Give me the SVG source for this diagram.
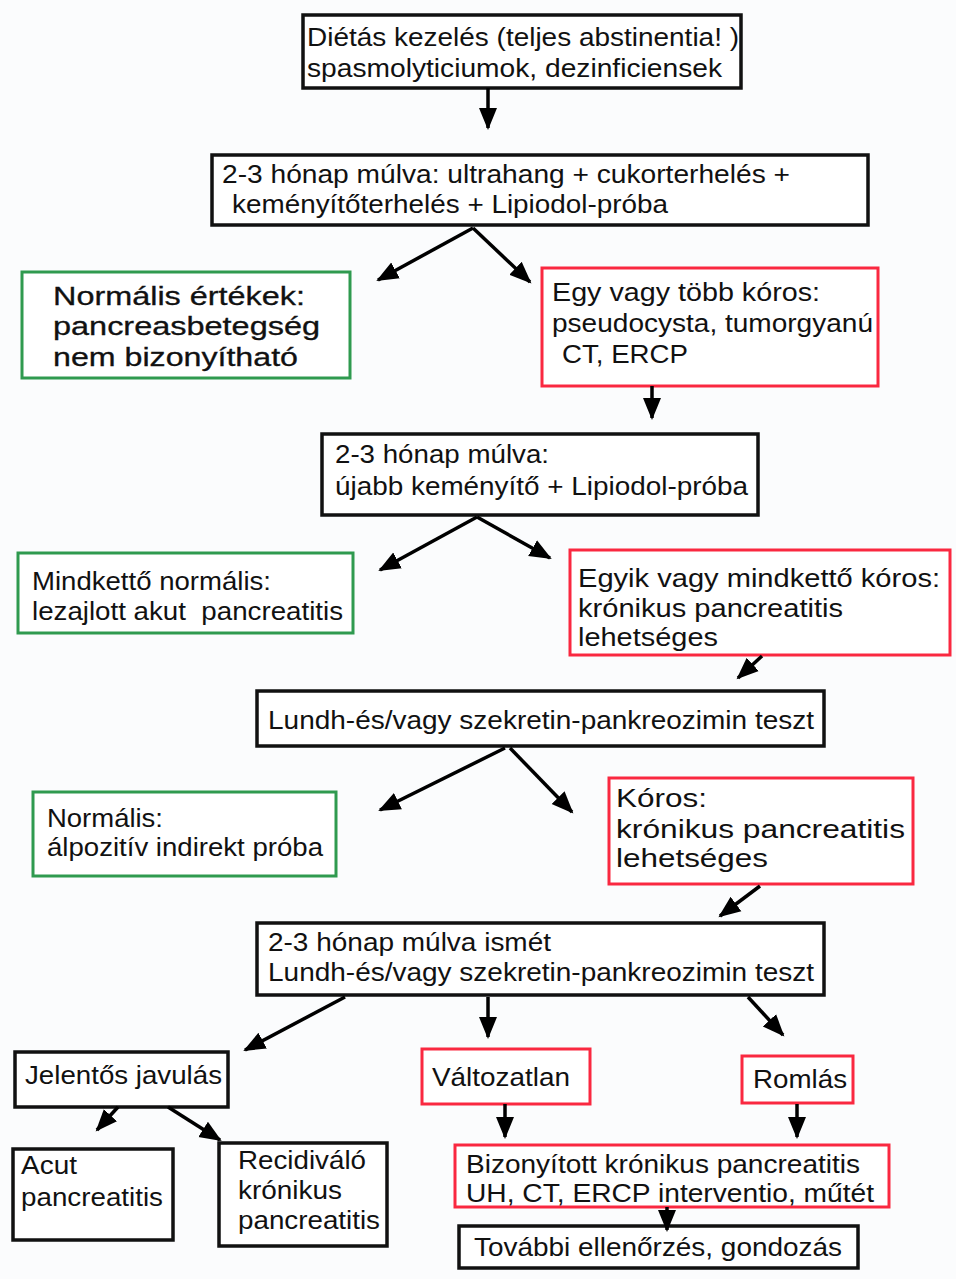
<svg xmlns="http://www.w3.org/2000/svg" width="956" height="1279" viewBox="0 0 956 1279">
<defs>
<marker id="ah" markerUnits="userSpaceOnUse" markerWidth="24" markerHeight="20" refX="20" refY="10" orient="auto">
<path d="M0,1 L22,10 L0,19 Z" fill="#000"/>
</marker>
<style>
.b{fill:#fff;stroke:#111;stroke-width:3.5}
.g{fill:#fff;stroke:#2f9a4f;stroke-width:3}
.r{fill:#fff;stroke:#fa2840;stroke-width:3}
text{font-family:"Liberation Sans",Arial,sans-serif;font-size:25px;fill:#111}
.hv{stroke:#111;stroke-width:0.3}
.c line{stroke:#000;stroke-width:3.5;marker-end:url(#ah)}
</style>
</defs>
<rect width="956" height="1279" fill="#fbfcfd"/>
<g id="n1"><rect class="b" x="303" y="15" width="438" height="73"/>
<text x="307" y="46" textLength="432" lengthAdjust="spacingAndGlyphs" font-size="26">Diétás kezelés (teljes abstinentia! )</text>
<text x="307" y="77" textLength="415" lengthAdjust="spacingAndGlyphs" font-size="26">spasmolyticiumok, dezinficiensek</text></g>
<g id="n2"><rect class="b" x="212" y="155" width="656" height="70"/>
<text x="222" y="183" textLength="568" lengthAdjust="spacingAndGlyphs">2-3 hónap múlva: ultrahang + cukorterhelés +</text>
<text x="232" y="213" textLength="436" lengthAdjust="spacingAndGlyphs">keményítőterhelés + Lipiodol-próba</text></g>
<g id="n3"><rect class="g" x="22" y="272" width="328" height="106"/>
<text class="hv" x="53" y="305" textLength="252" lengthAdjust="spacingAndGlyphs" font-size="28">Normális értékek:</text>
<text class="hv" x="53" y="335" textLength="267" lengthAdjust="spacingAndGlyphs" font-size="28">pancreasbetegség</text>
<text class="hv" x="53" y="366" textLength="245" lengthAdjust="spacingAndGlyphs" font-size="28">nem bizonyítható</text></g>
<g id="n4"><rect class="r" x="542" y="268" width="336" height="118"/>
<text x="552" y="301" textLength="268" lengthAdjust="spacingAndGlyphs" font-size="26">Egy vagy több kóros:</text>
<text x="552" y="332" textLength="321" lengthAdjust="spacingAndGlyphs" font-size="26">pseudocysta, tumorgyanú</text>
<text x="562" y="363" textLength="126" lengthAdjust="spacingAndGlyphs" font-size="26">CT, ERCP</text></g>
<g id="n5"><rect class="b" x="322" y="434" width="436" height="81"/>
<text x="335" y="463" textLength="214" lengthAdjust="spacingAndGlyphs">2-3 hónap múlva:</text>
<text x="335" y="495" textLength="413" lengthAdjust="spacingAndGlyphs">újabb keményítő + Lipiodol-próba</text></g>
<g id="n6"><rect class="g" x="18" y="553" width="335" height="80"/>
<text x="32" y="590" textLength="239" lengthAdjust="spacingAndGlyphs">Mindkettő normális:</text>
<text x="32" y="620" textLength="311" lengthAdjust="spacingAndGlyphs" xml:space="preserve">lezajlott akut  pancreatitis</text></g>
<g id="n7"><rect class="r" x="570" y="550" width="380" height="105"/>
<text x="578" y="587" textLength="362" lengthAdjust="spacingAndGlyphs">Egyik vagy mindkettő kóros:</text>
<text x="578" y="617" textLength="265" lengthAdjust="spacingAndGlyphs">krónikus pancreatitis</text>
<text x="578" y="646" textLength="140" lengthAdjust="spacingAndGlyphs">lehetséges</text></g>
<g id="n8"><rect class="b" x="257" y="691" width="567" height="55"/>
<text x="268" y="729" textLength="546" lengthAdjust="spacingAndGlyphs" font-size="29">Lundh-és/vagy szekretin-pankreozimin teszt</text></g>
<g id="n9"><rect class="g" x="33" y="792" width="303" height="84"/>
<text x="47" y="827" textLength="116" lengthAdjust="spacingAndGlyphs" font-size="26">Normális:</text>
<text x="47" y="856" textLength="276" lengthAdjust="spacingAndGlyphs" font-size="26">álpozitív indirekt próba</text></g>
<g id="n10"><rect class="r" x="609" y="778" width="304" height="106"/>
<text x="616" y="807" textLength="91" lengthAdjust="spacingAndGlyphs" font-size="27">Kóros:</text>
<text x="616" y="838" textLength="289" lengthAdjust="spacingAndGlyphs" font-size="27">krónikus pancreatitis</text>
<text x="616" y="867" textLength="152" lengthAdjust="spacingAndGlyphs" font-size="27">lehetséges</text></g>
<g id="n11"><rect class="b" x="257" y="923" width="567" height="72"/>
<text x="268" y="951" textLength="283" lengthAdjust="spacingAndGlyphs" font-size="28">2-3 hónap múlva ismét</text>
<text x="268" y="981" textLength="546" lengthAdjust="spacingAndGlyphs" font-size="28">Lundh-és/vagy szekretin-pankreozimin teszt</text></g>
<g id="n12"><rect class="b" x="15" y="1052" width="213" height="55"/>
<text x="25" y="1084" textLength="197" lengthAdjust="spacingAndGlyphs">Jelentős javulás</text></g>
<g id="n13"><rect class="r" x="422" y="1049" width="168" height="55"/>
<text x="432" y="1086" textLength="138" lengthAdjust="spacingAndGlyphs">Változatlan</text></g>
<g id="n14"><rect class="r" x="742" y="1056" width="111" height="47"/>
<text x="753" y="1088" textLength="94" lengthAdjust="spacingAndGlyphs">Romlás</text></g>
<g id="n15"><rect class="b" x="13" y="1149" width="160" height="91"/>
<text x="21" y="1174" textLength="56" lengthAdjust="spacingAndGlyphs">Acut</text>
<text x="21" y="1206" textLength="142" lengthAdjust="spacingAndGlyphs">pancreatitis</text></g>
<g id="n16"><rect class="b" x="219" y="1143" width="168" height="103"/>
<text x="238" y="1169" textLength="128" lengthAdjust="spacingAndGlyphs">Recidiváló</text>
<text x="238" y="1199" textLength="104" lengthAdjust="spacingAndGlyphs">krónikus</text>
<text x="238" y="1229" textLength="142" lengthAdjust="spacingAndGlyphs">pancreatitis</text></g>
<g id="n17"><rect class="r" x="455" y="1145" width="434" height="62"/>
<text x="466" y="1173" textLength="394" lengthAdjust="spacingAndGlyphs" font-size="26">Bizonyított krónikus pancreatitis</text>
<text x="466" y="1202" textLength="408" lengthAdjust="spacingAndGlyphs" font-size="26">UH, CT, ERCP interventio, műtét</text></g>
<g id="n18"><rect class="b" x="459" y="1226" width="399" height="42"/>
<text x="474" y="1256" textLength="368" lengthAdjust="spacingAndGlyphs" font-size="26">További ellenőrzés, gondozás</text></g>
<g id="connectors" class="c">
<line x1="488" y1="88" x2="488" y2="128"/>
<line x1="473" y1="228" x2="378" y2="280"/>
<line x1="473" y1="228" x2="530" y2="282"/>
<line x1="652" y1="386" x2="652" y2="418"/>
<line x1="477" y1="517" x2="380" y2="570"/>
<line x1="477" y1="517" x2="550" y2="558"/>
<line x1="762" y1="656" x2="738" y2="678"/>
<line x1="505" y1="748" x2="380" y2="810"/>
<line x1="510" y1="748" x2="572" y2="812"/>
<line x1="760" y1="886" x2="720" y2="916"/>
<line x1="345" y1="997" x2="245" y2="1050"/>
<line x1="488" y1="997" x2="488" y2="1037"/>
<line x1="748" y1="997" x2="783" y2="1035"/>
<line x1="118" y1="1107" x2="97" y2="1130"/>
<line x1="168" y1="1107" x2="220" y2="1140"/>
<line x1="505" y1="1104" x2="505" y2="1137"/>
<line x1="797" y1="1104" x2="797" y2="1137"/>
<line x1="667" y1="1207" x2="667" y2="1230"/>
</g>
</svg>
